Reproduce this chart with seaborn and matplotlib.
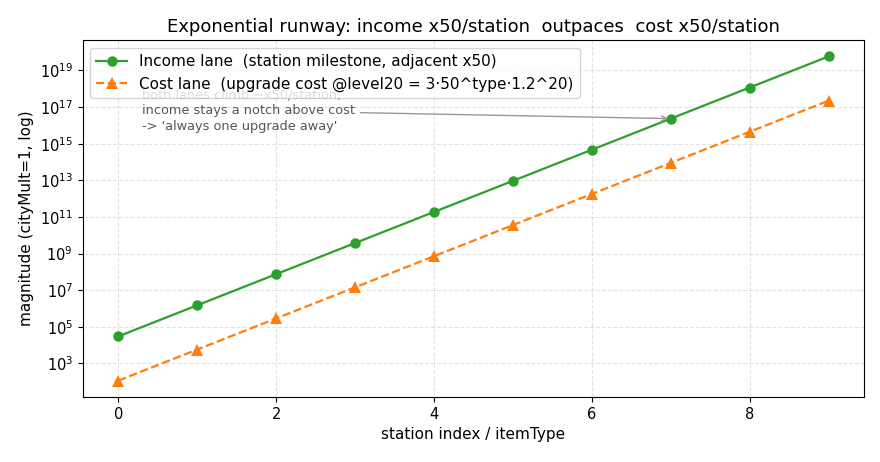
import numpy as np
import matplotlib
matplotlib.use('Agg')
import matplotlib.pyplot as plt
import matplotlib.ticker as mticker
import seaborn as sns

# station index / itemType
stations = [0, 1, 2, 3, 4, 5, 6, 7, 8, 9]
# income lane: station milestone, x50 per station
income = [3.0e4, 1.5e6, 7.5e7, 3.75e9, 1.875e11, 9.375e12, 4.6875e14, 2.34375e16, 1.171875e18, 5.859375e19]
# cost lane: 3*50^type*1.2^20
cost = [115.0, 5.75e3, 2.875e5, 1.4375e7, 7.1875e8, 3.59375e10, 1.796875e12, 8.984375e13, 4.4921875e15, 2.24609375e17]

fig, ax = plt.subplots(figsize=(8.8, 4.62), dpi=100)
fig.subplots_adjust(left=0.094, right=0.982, bottom=0.141, top=0.913)

sns.lineplot(x=stations, y=income, ax=ax, color='#2ca02c', marker='o', markersize=7.5,
             markeredgewidth=0, linewidth=1.6,
             label='Income lane  (station milestone, adjacent x50)')
sns.lineplot(x=stations, y=cost, ax=ax, color='#ff7f0e', marker='^', markersize=8.5,
             markeredgewidth=0, linewidth=1.6, linestyle='--',
             label='Cost lane  (upgrade cost @level20 = 3·50^type·1.2^20)')

ax.set_yscale('log')
ax.set_xlim(-0.45, 9.45)
ax.yaxis.set_major_locator(mticker.FixedLocator([10.0 ** k for k in range(3, 20, 2)]))
ax.yaxis.set_major_formatter(mticker.LogFormatterSciNotation())
ax.yaxis.set_minor_locator(mticker.NullLocator())
ax.tick_params(labelsize=10.5)
ax.grid(True, linestyle='--', alpha=0.35)
ax.set_title('Exponential runway: income x50/station  outpaces  cost x50/station', fontsize=13)
ax.set_xlabel('station index / itemType', fontsize=11)
ax.set_ylabel('magnitude (cityMult=1, log)', fontsize=11)

ax.annotate("both lanes climb ~x50/station;\nincome stays a notch above cost\n-> 'always one upgrade away'",
            xy=(stations[7], income[7]), xytext=(0.3, 6.5e16),
            ha='left', va='center', fontsize=9.3, color='#555555', linespacing=1.3,
            arrowprops=dict(arrowstyle='->', color='#999999', lw=1))

leg = ax.legend(loc='upper left', fontsize=11)
leg.set_zorder(5)

plt.savefig('out.png')
